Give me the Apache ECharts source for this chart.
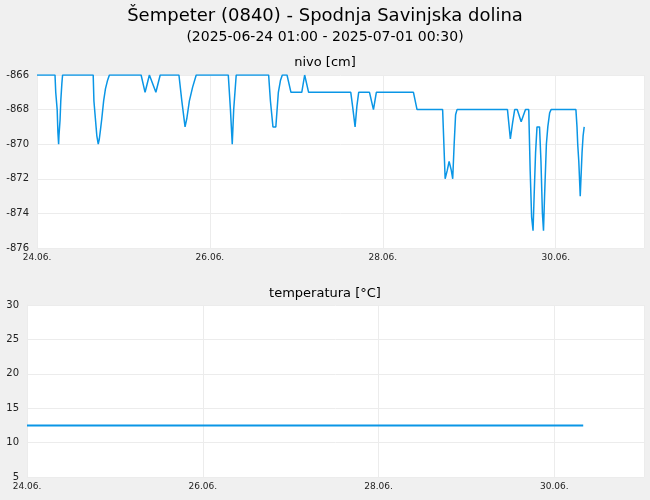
<!DOCTYPE html>
<html><head><meta charset="utf-8">
<script src="https://cdn.jsdelivr.net/npm/echarts@6/dist/echarts.min.js"></script>
<style>html,body{margin:0;background:#f0f0f0}#c{width:650px;height:500px}</style>
</head><body><div id="c"></div>
<script>
// hours since 24.06. 00:00
const levelHours = [0,5.0,5.2,5.6,5.8,6.0,6.1,6.4,6.6,6.9,7.1,
15.6,15.8,16.2,16.6,17.0,17.3,17.6,18.0,18.5,19.0,19.6,20.1,
28.9,30.0,31.2,33.0,34.2,39.4,40.2,41.1,41.6,42.3,43.2,44.2,
53.1,53.7,54.2,54.6,55.3,64.3,64.8,65.5,66.3,67.0,67.6,68.1,69.4,70.5,73.5,74.3,75.4,
87.1,87.6,88.3,88.8,89.3,92.3,93.4,94.2,104.5,105.5,112.6,113.3,113.9,114.4,115.0,115.4,115.8,116.2,116.6,
130.6,131.4,132.0,132.6,133.3,134.4,135.6,136.5,136.9,137.3,137.7,138.0,138.4,138.8,139.5,139.9,140.3,140.6,140.9,141.4,141.8,142.3,142.7,
149.6,149.9,150.1,150.4,150.7,150.8,151.0,151.3,151.6,151.9];
const levelValues = [-866,-866,-867,-868,-869.3,-870,-869.5,-868.6,-867.5,-866.5,-866,
-866,-867.5,-868.5,-869.5,-870,-869.7,-869.2,-868.5,-867.5,-866.8,-866.3,-866,
-866,-867,-866,-867,-866,-866,-867.5,-869,-868.5,-867.5,-866.7,-866,
-866,-868,-870,-868,-866,-866,-867.5,-869,-869,-867,-866.3,-866,-866,-867,-867,-866,-867,
-867,-867.8,-869,-867.8,-867,-867,-868,-867,-867,-868,-868,-872,-871.5,-871,-871.5,-872,-870,-868.3,-868,
-868,-869.7,-868.8,-868,-868,-868.7,-868,-868,-871.5,-874.2,-875,-873,-870.5,-869,-869,-871,-874,-875,-873,-870,-869,-868.2,-868,
-868,-869,-870,-871,-872.5,-873,-872,-870.5,-869.5,-869];
const tempHours = [0,151.9];
const tempValues = [12.5,12.5];
const dayLabels = {0:'24.06.',48:'26.06.',96:'28.06.',144:'30.06.'};
const levelTicks = {min:-876,max:-866,interval:2};
const tempTicks = {min:5,max:30,interval:5};

const lvl = levelHours.map((h,i)=>[h,levelValues[i]]);
const tmp = tempHours.map((h,i)=>[h,tempValues[i]]);
const font = 'DejaVu Sans';
const xAx = gi => ({type:'value',gridIndex:gi,min:0,max:168.5,interval:48,
  axisLine:{show:false},axisTick:{show:false},
  splitLine:{lineStyle:{color:'#ececec'}},
  axisLabel:{fontFamily:font,fontSize:9,color:'#222',margin:5,formatter:v=>dayLabels[v]||'',showMaxLabel:false}});
const yAx = (gi,t) => ({type:'value',gridIndex:gi,min:t.min,max:t.max,interval:t.interval,
  axisLine:{show:true,lineStyle:{color:'#ececec'}},axisTick:{show:false},
  splitLine:{lineStyle:{color:'#ececec'}},
  axisLabel:{fontFamily:font,fontSize:10,color:'#222',margin:8}});
const c = echarts.init(document.getElementById('c'));
c.setOption({
  backgroundColor:'#f0f0f0',animation:false,
  title:[
    {text:'Šempeter (0840) - Spodnja Savinjska dolina',left:'center',top:2,textStyle:{fontFamily:font,fontSize:18,fontWeight:'normal',color:'#000'}},
    {text:'(2025-06-24 01:00 - 2025-07-01 00:30)',left:'center',top:25,textStyle:{fontFamily:font,fontSize:14,fontWeight:'normal',color:'#000'}},
    {text:'nivo [cm]',left:'center',top:51,textStyle:{fontFamily:font,fontSize:13,fontWeight:'normal',color:'#000'}},
    {text:'temperatura [°C]',left:'center',top:282,textStyle:{fontFamily:font,fontSize:13,fontWeight:'normal',color:'#000'}}
  ],
  grid:[
    {left:37,right:6,top:75,height:173,backgroundColor:'#fff',show:true,borderWidth:0},
    {left:27,right:6,top:305,height:172,backgroundColor:'#fff',show:true,borderWidth:0}
  ],
  xAxis:[xAx(0),xAx(1)],
  yAxis:[yAx(0,levelTicks),yAx(1,tempTicks)],
  series:[
    {type:'line',xAxisIndex:0,yAxisIndex:0,data:lvl,showSymbol:false,lineStyle:{color:'#0a96e6',width:1.5}},
    {type:'line',xAxisIndex:1,yAxisIndex:1,data:tmp,showSymbol:false,lineStyle:{color:'#0a96e6',width:2}}
  ]
});
</script></body></html>
